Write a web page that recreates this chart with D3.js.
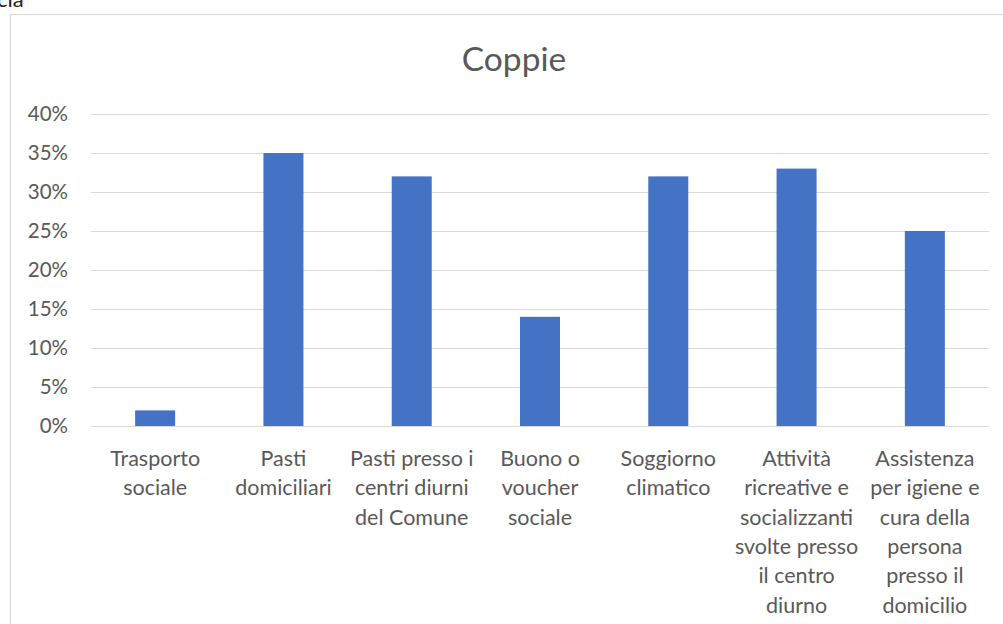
<!DOCTYPE html>
<html><head><meta charset="utf-8">
<script src="https://cdn.jsdelivr.net/npm/d3@7/dist/d3.min.js"></script>
<style>html,body{margin:0;padding:0;background:#fff;}svg{display:block;}</style>
</head><body>
<svg id="c" width="1003" height="624"></svg>
<script>
const categories = [
  ["Trasporto","sociale"],
  ["Pasti","domiciliari"],
  ["Pasti presso i","centri diurni","del Comune"],
  ["Buono o","voucher","sociale"],
  ["Soggiorno","climatico"],
  ["Attività","ricreative e","socializzanti","svolte presso","il centro","diurno"],
  ["Assistenza","per igiene e","cura della","persona","presso il","domicilio"]
];
const values = [2, 35, 32, 14, 32, 33, 25];
const yTicks = [0, 5, 10, 15, 20, 25, 30, 35, 40];
const title = "Coppie";

const svg = d3.select("#c");
const font = "Lato, 'Open Sans', sans-serif";
const txt = "#595959";

// partial text from above (cut off in the reference too)
svg.append("text").attr("x", -3).attr("y", 7).attr("font-family", font)
  .attr("font-size", 22).attr("fill", "#222").text("cia");

// chart border
svg.append("rect").attr("x", 10.5).attr("y", 14.5).attr("width", 1010).attr("height", 640)
  .attr("fill", "#fff").attr("stroke", "#d9d9d9").attr("stroke-width", 1.2);

const x = d3.scaleBand().domain(d3.range(categories.length)).range([91, 989]).padding(0);
const y = d3.scaleLinear().domain([0, 40]).range([426, 114]);

// gridlines
svg.append("g").selectAll("line").data(yTicks).join("line")
  .attr("x1", 91).attr("x2", 989)
  .attr("y1", d => y(d) + 0.5).attr("y2", d => y(d) + 0.5)
  .attr("stroke", "#d9d9d9").attr("stroke-width", 1.2);

// y labels
svg.append("g").selectAll("text").data(yTicks).join("text")
  .attr("x", 68).attr("y", d => y(d)).attr("dy", "0.36em")
  .attr("text-anchor", "end").attr("font-family", font).attr("font-size", 20.5)
  .attr("fill", txt).text(d => d + "%");

// bars
const bw = 40;
svg.append("g").selectAll("rect").data(values).join("rect")
  .attr("x", (d, i) => x(i) + x.bandwidth() / 2 - bw / 2)
  .attr("y", d => y(d))
  .attr("width", bw)
  .attr("height", d => y(0) - y(d))
  .attr("fill", "#4472c4");

// category labels
const lab = svg.append("g").selectAll("text").data(categories).join("text")
  .attr("text-anchor", "middle").attr("font-family", font).attr("font-size", 21.5)
  .attr("fill", txt)
  .attr("transform", (d, i) => `translate(${x(i) + x.bandwidth() / 2},0)`);
lab.selectAll("tspan").data(d => d).join("tspan")
  .attr("x", 0).attr("y", (d, j) => 466 + j * 29.3).text(d => d);

// title
svg.append("text").attr("x", 514).attr("y", 71).attr("text-anchor", "middle")
  .attr("font-family", font).attr("font-size", 33.5).attr("fill", txt).text(title);
</script>
</body></html>
